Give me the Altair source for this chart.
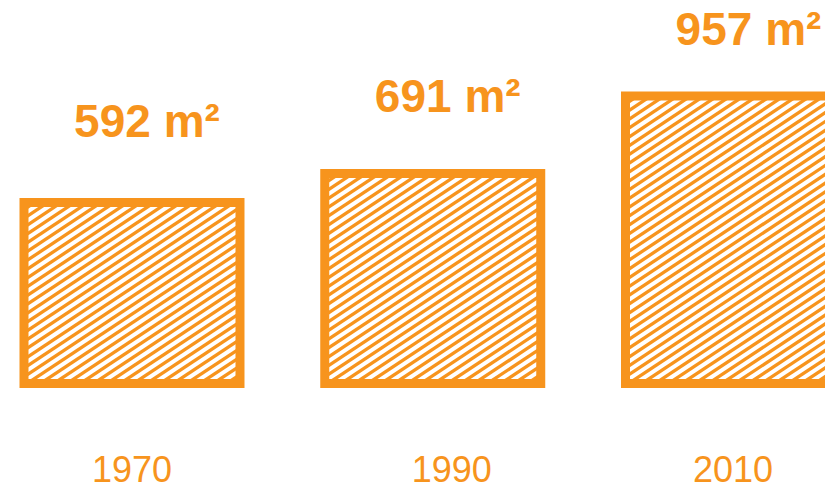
import math
import altair as alt
import pandas as pd

# ---- data ----
years = [1970, 1990, 2010]
areas = [592, 691, 957]
area_labels = ["592 m²", "691 m²", "957 m²"]
year_labels = ["1970", "1990", "2010"]

# ---- style / layout constants ----
ORANGE = "#F7941D"
W, H = 817, 478
X_DOMAIN = [1961.754, 2016.085]
Y_DOMAIN = [-379.6, 1258.5]
LABEL_Y_DOMAIN = [-792.6, 1103.8]
YEAR_X_RANGE = [124, 443.7, 725]
BASE = -28.3                      # baseline value of the boxes
BOX_W_PX = 216                    # box width in pixels
HATCH_ANGLE = 33.5                # degrees
HATCH_VSTEP = 8.8                 # vertical spacing of hatch lines (px)

px_per_year = W / (X_DOMAIN[1] - X_DOMAIN[0])
px_per_m2 = H / (Y_DOMAIN[1] - Y_DOMAIN[0])
half = BOX_W_PX / 2 / px_per_year

boxes = pd.DataFrame({
    "year": years,
    "area": areas,
    "label": area_labels,
    "ylabel": year_labels,
})
boxes["x0"] = boxes["year"] - half
boxes["x1"] = boxes["year"] + half
boxes["base"] = BASE

# hatch segments, computed in each box's local pixel frame, converted to data units
tan = math.tan(math.radians(HATCH_ANGLE))
rows = []
for yr, a in zip(years, areas):
    hp = (a - BASE) * px_per_m2
    c = -BOX_W_PX * tan
    while c < hp + HATCH_VSTEP:
        u0 = max(0.0, -c / tan)
        u1 = min(float(BOX_W_PX), (hp - c) / tan)
        if u1 > u0:
            rows.append({
                "x": yr - half + u0 / px_per_year,
                "y": BASE + (u0 * tan + c) / px_per_m2,
                "x2": yr - half + u1 / px_per_year,
                "y2": BASE + (u1 * tan + c) / px_per_m2,
            })
        c += HATCH_VSTEP
hatch = pd.DataFrame(rows)

xs = alt.Scale(domain=X_DOMAIN, nice=False, zero=False)
ys = alt.Scale(domain=Y_DOMAIN, nice=False, zero=False)

hatch_layer = alt.Chart(hatch).mark_rule(
    stroke=ORANGE, strokeWidth=3.3, strokeCap="butt"
).encode(
    x=alt.X("x:Q", scale=xs, axis=None),
    y=alt.Y("y:Q", scale=ys, axis=None),
    x2="x2:Q",
    y2="y2:Q",
)

box_layer = alt.Chart(boxes).mark_rect(
    fillOpacity=0, stroke=ORANGE, strokeWidth=9, strokeJoin="miter"
).encode(
    x=alt.X("x0:Q", scale=xs, axis=None),
    x2="x1:Q",
    y=alt.Y("area:Q", scale=ys, axis=None),
    y2="base:Q",
)

label_layer = alt.Chart(boxes).mark_text(
    font="Liberation Sans", fontSize=46, fontWeight="bold", color=ORANGE,
    align="center", baseline="alphabetic", dx=15,
).encode(
    x=alt.X("year:Q", scale=xs, axis=None),
    y=alt.Y("area:Q", scale=alt.Scale(domain=LABEL_Y_DOMAIN, nice=False, zero=False), axis=None),
    text="label:N",
)

year_layer = alt.Chart(boxes).mark_text(
    font="Liberation Sans", fontSize=36, color=ORANGE,
    align="center", baseline="alphabetic", dy=99,
).encode(
    x=alt.X("year:Q", scale=alt.Scale(domain=years, range=YEAR_X_RANGE, nice=False, zero=False), axis=None),
    y=alt.Y("base:Q", scale=ys, axis=None),
    text="ylabel:N",
)

chart = alt.layer(hatch_layer, box_layer, label_layer, year_layer).resolve_scale(
    x="independent", y="independent"
).properties(
    width=W, height=H,
    autosize=alt.AutoSizeParams(type="none"),
    padding={"left": 0, "top": 0, "right": 0, "bottom": 8},
    background="white",
).configure_view(stroke=None)

chart.save("out.html", embed_options={"renderer": "svg", "actions": False})
